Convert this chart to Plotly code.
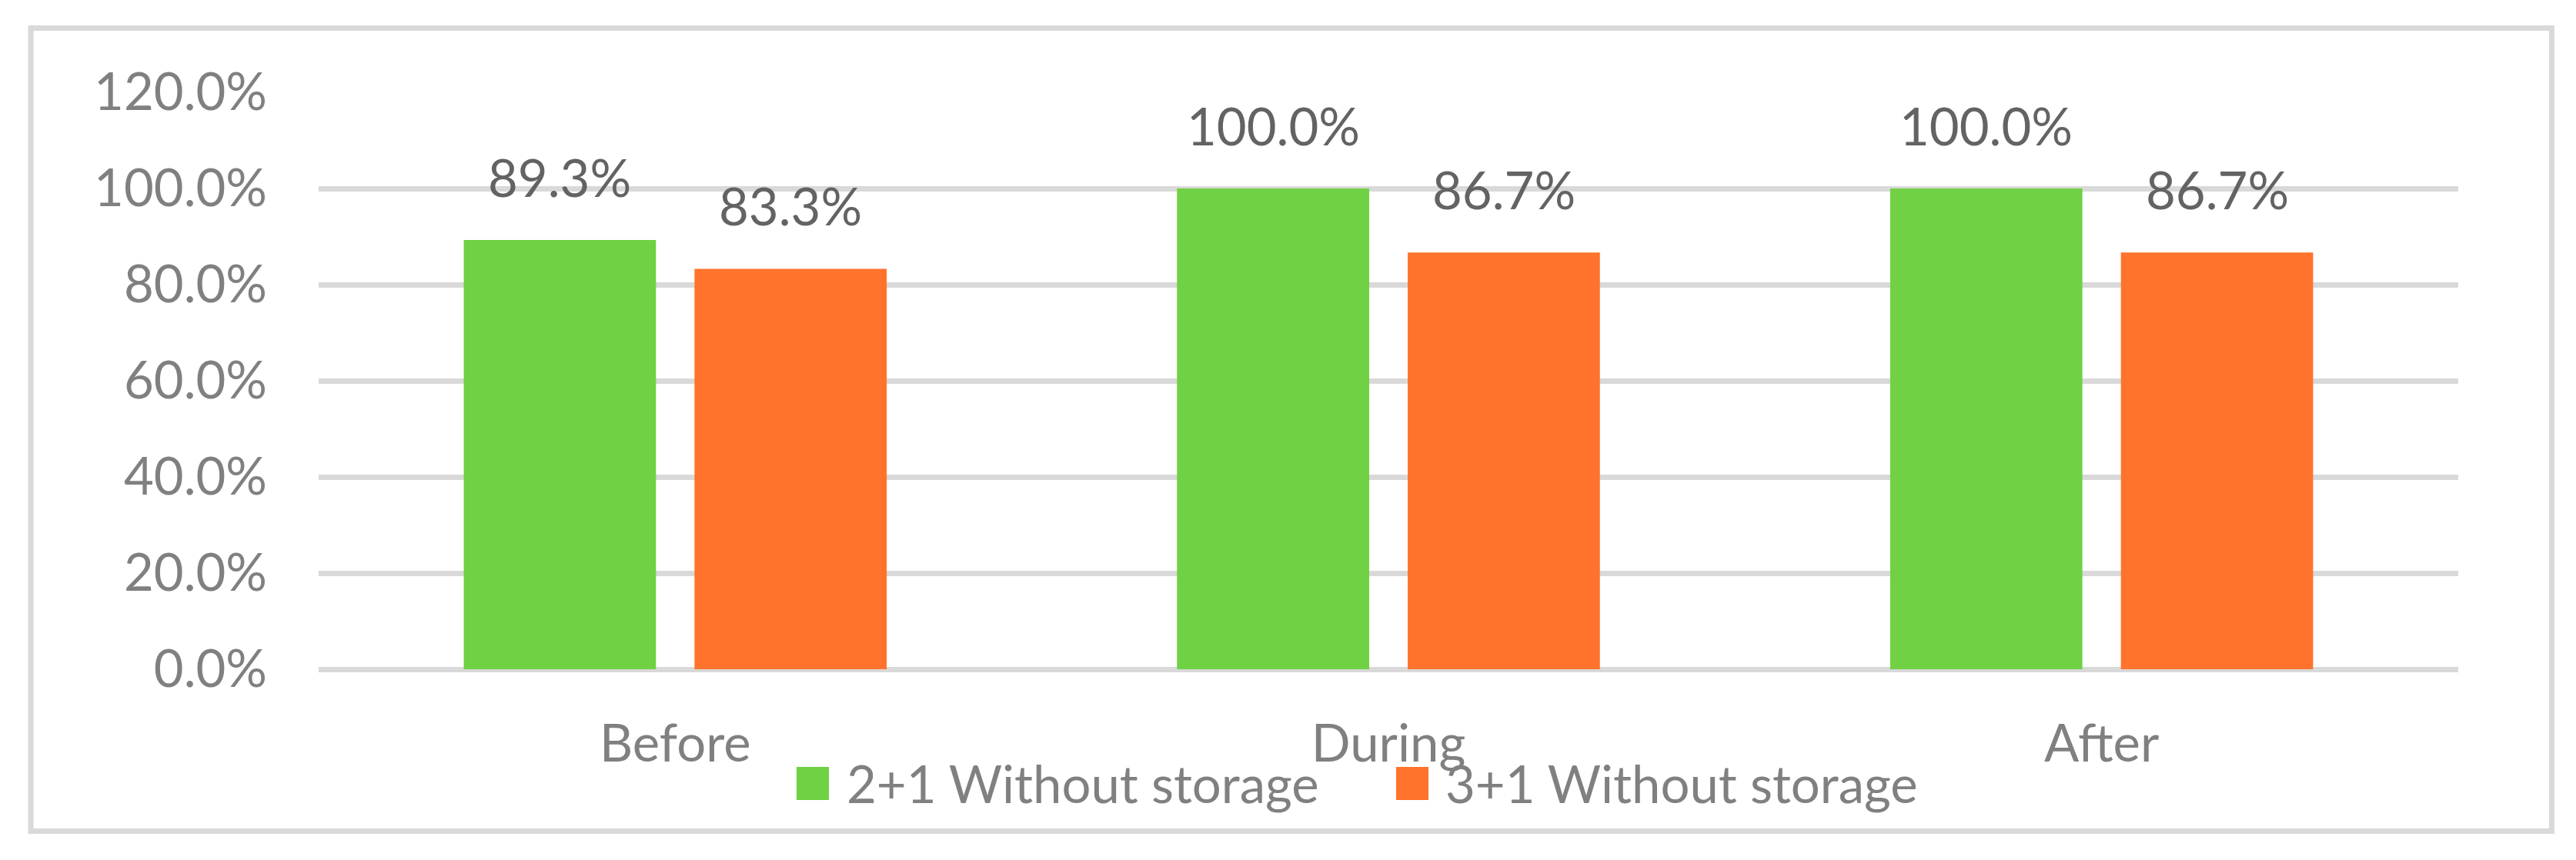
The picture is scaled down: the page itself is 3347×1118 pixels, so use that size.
import plotly.graph_objects as go

# ---- data ----
categories = ["Before", "During", "After"]
series_names = ["2+1 Without storage", "3+1 Without storage"]
values_2plus1 = [0.893, 1.000, 1.000]
values_3plus1 = [0.833, 0.867, 0.867]
y_tick_values = [0.0, 0.2, 0.4, 0.6, 0.8, 1.0, 1.2]

colors = ["#6FD143", "#FF732C"]
FONT = "Lato, 'Open Sans', 'Noto Sans', sans-serif"
FS = 67

OFF = 8  # page body margin offset
W, H = 3347 - OFF, 1118 - OFF
ML, MR, MT, MB = 414 - OFF, 153, 120 - OFF, 248
PW, PH = W - ML - MR, H - MT - MB

def px_x(p):  # screenshot pixel -> paper
    return (p - OFF - ML) / PW

def px_y(p):
    return (H - MB - (p - OFF)) / PH

fig = go.Figure()
all_vals = [values_2plus1, values_3plus1]
for name, vals, col in zip(series_names, all_vals, colors):
    fig.add_trace(go.Bar(
        x=categories, y=vals, name=name,
        marker=dict(color=col, line=dict(width=0)),
        showlegend=False, hoverinfo="x+y",
    ))

# data labels
bargap, bargroupgap = 0.353, 0.167
cat_px = PW / len(categories)
slot = cat_px * (1 - bargap) / 2
for k, vals in enumerate(all_vals):
    shift = (k - 0.5) * slot
    for c, v in zip(categories, vals):
        fig.add_annotation(
            x=c, y=v, xref="x", yref="y", text=f"{v*100:.1f}%",
            showarrow=False, xshift=shift, yshift=40, yanchor="bottom",
            font=dict(family=FONT, size=FS, color="#636363"),
        )

# custom legend
leg_items = [(1035, 1098), (1814, 1876)]
for (sx, tx), name, col in zip(leg_items, series_names, colors):
    fig.add_shape(type="rect", xref="paper", yref="paper",
                  x0=px_x(sx), x1=px_x(sx + 42), y0=px_y(997), y1=px_y(1040),
                  fillcolor=col, line=dict(width=0))
    fig.add_annotation(x=px_x(tx), y=px_y(1018), xref="paper", yref="paper",
                       text=name, showarrow=False, xanchor="left", yanchor="middle",
                       font=dict(family=FONT, size=FS, color="#808080"))

# outer border
fig.add_shape(type="rect", xref="paper", yref="paper",
              x0=px_x(40), x1=px_x(3315.5), y0=px_y(36.5), y1=px_y(1080.5),
              line=dict(color="#D9D9D9", width=7), fillcolor="rgba(0,0,0,0)", layer="below")

fig.update_layout(
    width=W, height=H,
    margin=dict(l=ML, r=MR, t=MT, b=MB, pad=0),
    paper_bgcolor="white", plot_bgcolor="white",
    barmode="group", bargap=bargap, bargroupgap=bargroupgap,
    font=dict(family=FONT, size=FS, color="#808080"),
    xaxis=dict(type="category", showgrid=False, zeroline=False, showline=False,
               ticks="", ticklabelstandoff=52,
               tickfont=dict(family=FONT, size=FS, color="#808080")),
    yaxis=dict(range=[0, 1.2], tickvals=y_tick_values, tickformat=".1%",
               showgrid=True, gridcolor="#D9D9D9", gridwidth=7,
               zeroline=True, zerolinecolor="#D9D9D9", zerolinewidth=7,
               showline=False, ticks="", ticklabelstandoff=66,
               tickfont=dict(family=FONT, size=FS, color="#808080")),
)

fig.write_html("out.html")
